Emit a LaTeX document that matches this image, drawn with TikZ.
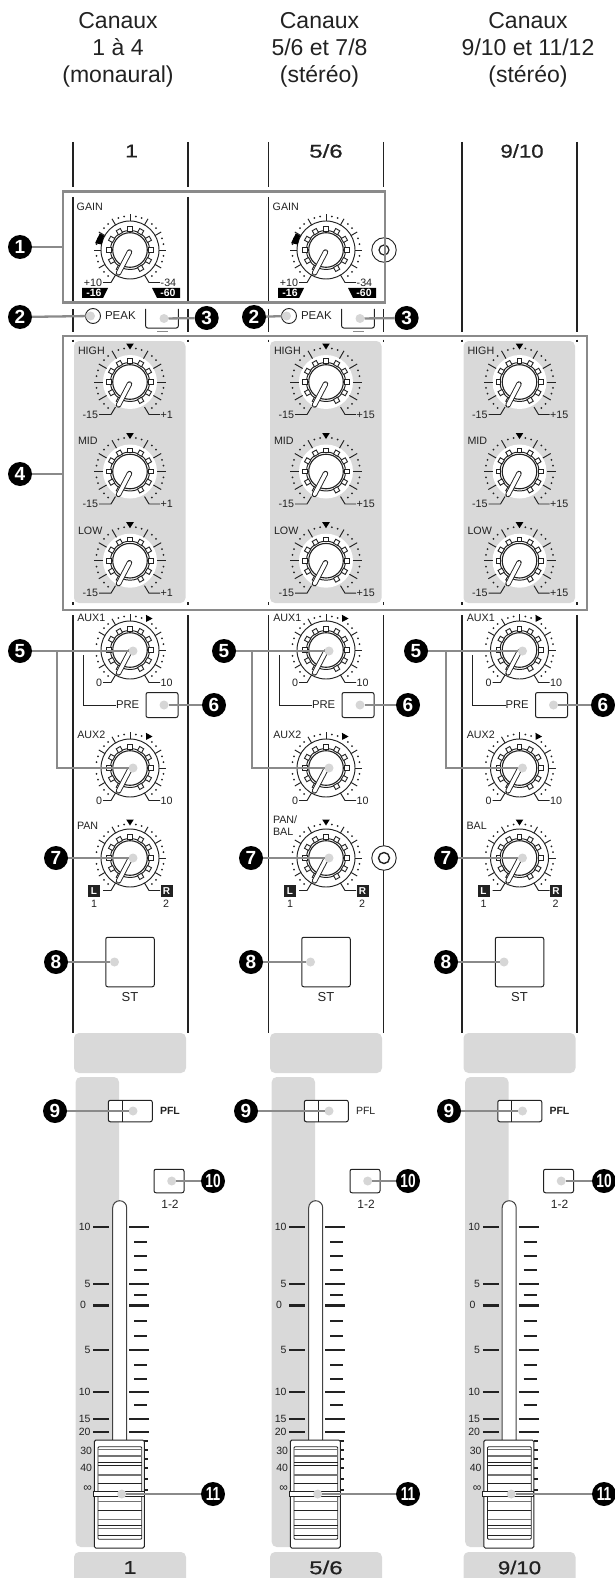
\documentclass[tikz,border=0pt]{standalone}
\usepackage{fontspec}
\setmainfont{Liberation Sans}
\newfontfamily\medfont[FakeBold=0.6]{Liberation Sans}
\definecolor{panelgray}{HTML}{D9D9D9}
\definecolor{dotgray}{HTML}{D6D6D6}
\definecolor{conngray}{HTML}{8A8A8A}
\definecolor{ink}{HTML}{222222}
\tikzset{
  lab/.style={font=\fontsize{10.7}{11.5}\selectfont,inner sep=0pt,outer sep=0pt,text=ink},
  head/.style={font=\fontsize{23}{27}\selectfont,inner sep=0pt,align=center,text=ink},
  chnum/.style={font=\fontsize{18.5}{18.5}\selectfont\medfont,inner sep=0pt,text=ink},
  callout/.style={circle,fill=black,minimum size=24pt,inner sep=0pt,outer sep=0pt,text=white,font=\fontsize{19}{19}\selectfont\bfseries},
  dotmark/.style={circle,fill=dotgray,minimum size=9pt,inner sep=0pt,outer sep=0pt},
  conn/.style={draw=conngray,line width=2.3pt},
  hlbox/.style={draw=conngray,line width=2.4pt,inner sep=0pt,outer sep=0pt},
  btn/.style={draw=ink,line width=1pt,rounded corners=2pt,fill=white,inner sep=0pt,outer sep=0pt},
  strip/.style={draw=ink,line width=1.1pt},
  tick/.style={draw=ink,line width=1.8pt},
  panel/.style={fill=panelgray,rounded corners=5pt},
  fine/.style={draw=ink,line width=0.95pt},
  capgray/.style={draw=black!55,line width=1.2pt},
  capblack/.style={draw=ink,line width=0.8pt}
}
% x y kind(0 ring,1 eq) triangle-clock-angle left right name
\newcommand{\knob}[7]{%
  \begin{scope}[shift={(#1,#2)},x=1pt,y=1pt,name prefix=#7-]
    \ifnum#3=1
      \fill[white] (0,0) circle (27);
      \def\tickin{27}\def\legend{31}
    \else
      \draw[fine] (0,0) circle (29);
      \def\tickin{29}\def\legend{27}
    \fi
    \foreach \c in {-120,-90,...,120}{%
      \ifnum\c=#4\relax\else
        \draw[fine] (90-\c:\tickin) -- (90-\c:36);
      \fi}
    \foreach \c in {10,20,40,50,70,80,100,110,130,140,-10,-20,-40,-50,-70,-80,-100,-110,-130,-140}{%
      \fill[ink] (90-\c:34) circle (1);}
    \ifnum#4=999\relax\else
      \fill[black,rotate=-#4] (0,32.5) -- (-3.8,38.5) -- (3.8,38.5) -- cycle;
    \fi
    \draw[fine,fill=white] (0,0) circle (19.5);
    \draw[draw=ink,line width=1.1pt] (0,0) circle (17.3);
    \foreach \c in {-150,-120,...,150}{%
      \draw[draw=ink,line width=0.9pt,fill=white,rotate=-\c] (-2.3,18.9) rectangle (2.3,23.5);}
    \draw[draw=ink,line width=5.4pt,line cap=round] (-0.5,-2) -- (-11.5,-23);
    \draw[draw=white,line width=3.6pt,line cap=round] (-0.5,-2) -- (-11.5,-23);
    \draw[fine] (-14.5,-25) -- (-19,-32.5) -- (-\legend,-32.5);
    \draw[fine] (14.5,-25) -- (19,-32.5) -- (30,-32.5);
    \node[lab,anchor=east] (left) at (-\legend-1,-32.5) {#5};
    \node[lab,anchor=west] (right) at (30.7,-32.5) {#6};
  \end{scope}}
\newcommand{\wedgemark}[2]{%
  \begin{scope}[shift={(#1,#2)},x=1pt,y=1pt]
    \fill[black] (169:29) -- (169:35.6) -- (151:34.5) -- (151:29.5) -- cycle;
  \end{scope}}
% gain strip: id dx
\newcommand{\gainstrip}[2]{%
  \begin{scope}[xshift=#2 pt]
    \knob{130}{250}{0}{999}{+10}{-34}{g#1}
    \wedgemark{130}{250}
    \node[lab,anchor=west] (gl#1) at (76.7,207) {GAIN};
    \fill[black] (82,288) -- (108,288) -- (103,298) -- (82,298) -- cycle;
    \fill[black] (152,288) -- (180,288) -- (180,298) -- (157,298) -- cycle;
    \node[lab,text=white,font=\fontsize{10.5}{10.5}\selectfont\bfseries] (gm#1) at (94,293) {-16};
    \node[lab,text=white,font=\fontsize{10.5}{10.5}\selectfont\bfseries] (gp#1) at (168,293) {-60};
    \node[circle,draw=ink,line width=0.9pt,fill=white,minimum size=15pt,inner sep=0pt] (led#1) at (93,316) {};
    \node[lab,anchor=west,font=\fontsize{11.5}{12}\selectfont] (peak#1) at (105,316) {PEAK};
    \draw[draw=ink,line width=1pt,rounded corners=2pt] (145.7,309) -- (145.7,328) -- (178.3,328) -- (178.3,309);
    \draw[draw=conngray,line width=1pt] (157,331.6) -- (168,331.6);
    \node[dotmark] (d2-#1) at (90.5,316) {};
    \node[dotmark] (d3-#1) at (164,318.5) {};
  \end{scope}}
% eq: id dx right label
\newcommand{\eqstrip}[3]{%
  \begin{scope}[xshift=#2 pt]
    \fill[panel] (74,341) rectangle (185.5,603);
    \knob{130}{382}{1}{0}{-15}{#3}{h#1}
    \knob{130}{471.5}{1}{0}{-15}{#3}{m#1}
    \knob{130}{560.7}{1}{0}{-15}{#3}{l#1}
    \node[lab,anchor=west] (hl#1) at (78,351) {HIGH};
    \node[lab,anchor=west] (ml#1) at (78,441) {MID};
    \node[lab,anchor=west] (ll#1) at (78,531) {LOW};
  \end{scope}}
% aux etc: id dx pan-label
\newcommand{\auxstrip}[3]{%
  \begin{scope}[xshift=#2 pt]
    \knob{130}{650}{0}{30}{0}{10}{a#1}
    \knob{130}{768}{0}{30}{0}{10}{b#1}
    \knob{130}{858}{0}{0}{}{}{p#1}
    \node[lab,anchor=west] (al#1) at (77.3,618) {AUX1};
    \node[lab,anchor=west] (bl#1) at (77.3,735) {AUX2};
    \node[lab,anchor=west,align=left] (pl#1) at (77,#3) {\panlabel};
    \node[lab,anchor=west,font=\fontsize{11.3}{12}\selectfont] (pre#1) at (116,705) {PRE};
    \draw[fine] (83,655) -- (83,705) -- (pre#1.west) ;
    \node[btn,minimum width=32pt,minimum height=25pt] (bt6#1) at (162,705) {};
    \fill[ink] (88,885) rectangle (100,897);
    \fill[ink] (160.5,885) rectangle (172.5,897);
    \node[lab,text=white,font=\fontsize{10}{10}\selectfont\bfseries] (lb#1) at (94,891) {L};
    \node[lab,text=white,font=\fontsize{10}{10}\selectfont\bfseries] (rb#1) at (166.5,891) {R};
    \node[lab] (one#1) at (94,904) {1};
    \node[lab] (two#1) at (166,904) {2};
    \node[btn,minimum width=48.5pt,minimum height=49.5pt] (st#1) at (130,962) {};
    \node[lab,font=\fontsize{13}{13}\selectfont] (stl#1) at (130,997) {ST};
    \node[dotmark] (d5a-#1) at (133,651) {};
    \node[dotmark] (d5b-#1) at (133,768) {};
    \node[dotmark] (d6-#1) at (164,705) {};
    \node[dotmark] (d7-#1) at (133,858) {};
    \node[dotmark] (d8-#1) at (114.5,962) {};
  \end{scope}}
% fader: id dx PFL-font
\newcommand{\faderstrip}[3]{%
  \begin{scope}[xshift=#2 pt]
    \fill[panel] (74,1033) rectangle (186,1073);
    \fill[panel] (75.7,1077) rectangle (119,1547);
    \fill[panel] (74,1552) rectangle (186,1590);
    \node[btn,minimum width=44pt,minimum height=21.5pt] (pfl#1) at (130.3,1111) {};
    \draw[draw=ink,line width=1pt] (122.3,1100) -- (122.3,1122);
    \node[lab,anchor=west,font=\fontsize{10.5}{11}\selectfont#3] (pfll#1) at (160,1111) {PFL};
    \node[btn,minimum width=30pt,minimum height=23.5pt] (b10#1) at (169,1181) {};
    \node[lab,font=\fontsize{12}{12}\selectfont] (ot#1) at (170,1204) {1-2};
    \draw[draw=ink!85,line width=1pt,fill=white] (112.7,1442) -- (112.7,1207.7) arc[start angle=180,end angle=360,radius=7] -- (126.7,1442) -- cycle;
    \foreach \yy/\tt in {1226.7/10,1284/5,1350/5,1392/10,1419/15,1431.7/20}{%
      \draw[tick] (93.3,\yy) -- (109,\yy);
      \draw[tick] (129,\yy) -- (149,\yy);
      \node[lab,anchor=east,font=\fontsize{10.5}{10}\selectfont] at (90.5,\yy) {\tt};}
    \draw[draw=ink,line width=2.8pt] (93.3,1305.3) -- (109,1305.3);
    \draw[draw=ink,line width=2.8pt] (129,1305.3) -- (149,1305.3);
    \node[lab,anchor=east,font=\fontsize{10.5}{10}\selectfont] (zero#1) at (86,1305.3) {0};
    \foreach \yy in {1242,1256,1270,1295,1321,1336,1364.7,1379,1405}{%
      \draw[tick] (134,\yy) -- (147,\yy);}
    \foreach \yy/\tt in {1450.7/30,1467.7/40}{%
      \node[lab,anchor=east,font=\fontsize{10.5}{10}\selectfont] at (92,\yy) {\tt};}
    \node[lab,anchor=east,font=\fontsize{12}{10}\selectfont] (inf#1) at (92,1489) {∞};
    \foreach \yy in {1441,1450,1459,1468,1479,1490}{%
      \draw[draw=ink,line width=1.4pt] (144,\yy) -- (148,\yy);}
    \draw[draw=ink,line width=1pt,fill=white,rounded corners=1.5pt] (94.3,1440) rectangle (144.3,1548);
    \draw[draw=ink,line width=0.8pt,rounded corners=1pt] (98,1446.7) rectangle (141.7,1539.3);
    \foreach \yy in {1449.5,1456,1475,1501.7,1519.3,1528.3}{%
      \draw[capgray] (98,\yy) -- (141.7,\yy);}
    \foreach \yy in {1462,1465,1483.3,1510,1525,1535}{%
      \draw[capblack] (98,\yy) -- (141.7,\yy);}
    \fill[white,draw=ink,line width=0.7pt] (93,1490.9) rectangle (144.3,1496.1);
    \node[dotmark] (d9-#1) at (133,1111) {};
    \node[dotmark] (d10-#1) at (171.7,1181) {};
    \node[dotmark] (d11-#1) at (121.7,1494) {};
  \end{scope}}
\begin{document}
\begin{tikzpicture}[x=1pt,y=-1pt]
\useasboundingbox (0,0) rectangle (615,1578);
% headers
\node[head] (t1) at (118,49.5) {Canaux\\1 à 4\\(monaural)};
\node[head] (t2) at (319.5,49.5) {Canaux\\5/6 et 7/8\\(stéréo)};
\node[head] (t3) at (528,49.5) {Canaux\\9/10 et 11/12\\(stéréo)};
\node[chnum] (n1) at (131.5,151) {\scalebox{1.25}[1]{1}};
\node[chnum] (n2) at (326,151) {\scalebox{1.3}[1]{5/6}};
\node[chnum] (n3) at (522,151) {\scalebox{1.2}[1]{9/10}};
% strip lines
\foreach \xx in {73,188,268.7,383.7,462,577}{%
  \draw[strip] (\xx,142) -- (\xx,187);
  \draw[strip] (\xx,309) -- (\xx,332);
  \draw[strip] (\xx,339.5) -- (\xx,342);
  \draw[strip] (\xx,602) -- (\xx,604.5);
  \draw[strip] (\xx,615) -- (\xx,1033);}
\foreach \xx in {462,577}{\draw[strip] (\xx,187) -- (\xx,309);}
\foreach \xx in {73,188,268.7}{\draw[strip] (\xx,197) -- (\xx,302);}
% strips
\gainstrip{1}{0}
\gainstrip{2}{196}
\eqstrip{1}{0}{+1}
\eqstrip{2}{196}{+15}
\eqstrip{3}{389.5}{+15}
\def\panlabel{PAN}\auxstrip{1}{0}{826}
\def\panlabel{PAN/\\BAL}\auxstrip{2}{196}{825.5}
\def\panlabel{BAL}\auxstrip{3}{389.5}{826}
\faderstrip{1}{0}{\bfseries}
\faderstrip{2}{196}{}
\faderstrip{3}{389.5}{\bfseries}
% jacks
\node[circle,draw=ink,line width=0.9pt,fill=white,minimum size=24.5pt,inner sep=0pt] (jack2o) at (384,858) {};
\node[circle,draw=ink,line width=1.4pt,minimum size=11pt,inner sep=0pt] (jack2i) at (384,858) {};
\node[circle,draw=ink,line width=0.9pt,minimum size=24.5pt,inner sep=0pt] (jack1o) at (384,250) {};
\node[circle,draw=ink,line width=1.2pt,minimum size=10pt,inner sep=0pt] (jack1i) at (384,250) {};
% highlight boxes
\node[hlbox,minimum width=322pt,minimum height=111pt] (box1) at (224,247) {};
\node[hlbox,minimum width=524pt,minimum height=274pt] (box2) at (325,473) {};
% bottom channel numbers
\node[chnum] (b1) at (130,1567.5) {\scalebox{1.25}[1]{1}};
\node[chnum] (b2) at (326,1567.5) {\scalebox{1.3}[1]{5/6}};
\node[chnum] (b3) at (519.5,1567.5) {\scalebox{1.2}[1]{9/10}};
% callouts
\node[callout] (c1) at (20,247) {1};
\node[callout] (c2a) at (20,317) {2};
\node[callout] (c2b) at (254,317) {2};
\node[callout] (c3a) at (206.7,318) {3};
\node[callout] (c3b) at (406.6,318) {3};
\node[callout] (c4) at (20,474) {4};
\draw[conn] (c1) -- (c1 -| box1.west);
\draw[conn] (c4) -- (c4 -| box2.west);
\draw[conn] (c2a) -- (d2-1);
\draw[conn] (c2b) -- (d2-2);
\draw[conn] (d3-1) -- (c3a);
\draw[conn] (d3-2) -- (c3b);
\foreach \id/\cfive/\fork/\csix/\cseven/\ceight/\cnine/\cten/\celev in
  {1/20/57/214/56/56/55/213/213,
   2/224/252/408/251/251/246/408/408,
   3/416/445.7/603/446/446/449/604/604}{%
  \node[callout] (c5-\id) at (\cfive,651) {5};
  \node[callout] (c6-\id) at (\csix,705) {6};
  \node[callout] (c7-\id) at (\cseven,858) {7};
  \node[callout] (c8-\id) at (\ceight,962) {8};
  \node[callout] (c9-\id) at (\cnine,1111) {9};
  \node[callout] (c10-\id) at (\cten,1181) {\scalebox{0.72}[1]{10}};
  \node[callout] (c11-\id) at (\celev,1494) {\scalebox{0.72}[1]{11}};
  \coordinate (f5-\id) at (\fork,651);
  \coordinate (g5-\id) at (\fork,768);
  \draw[conn] (c5-\id) -- (d5a-\id);
  \draw[conn] (f5-\id) -- (g5-\id) -- (d5b-\id);
  \draw[conn] (d6-\id) -- (c6-\id);
  \draw[conn] (c7-\id) -- (d7-\id);
  \draw[conn] (c8-\id) -- (d8-\id);
  \draw[conn] (c9-\id) -- (d9-\id);
  \draw[conn] (d10-\id) -- (c10-\id);
  \draw[conn] (d11-\id) -- (c11-\id);
}
\end{tikzpicture}
\end{document}
